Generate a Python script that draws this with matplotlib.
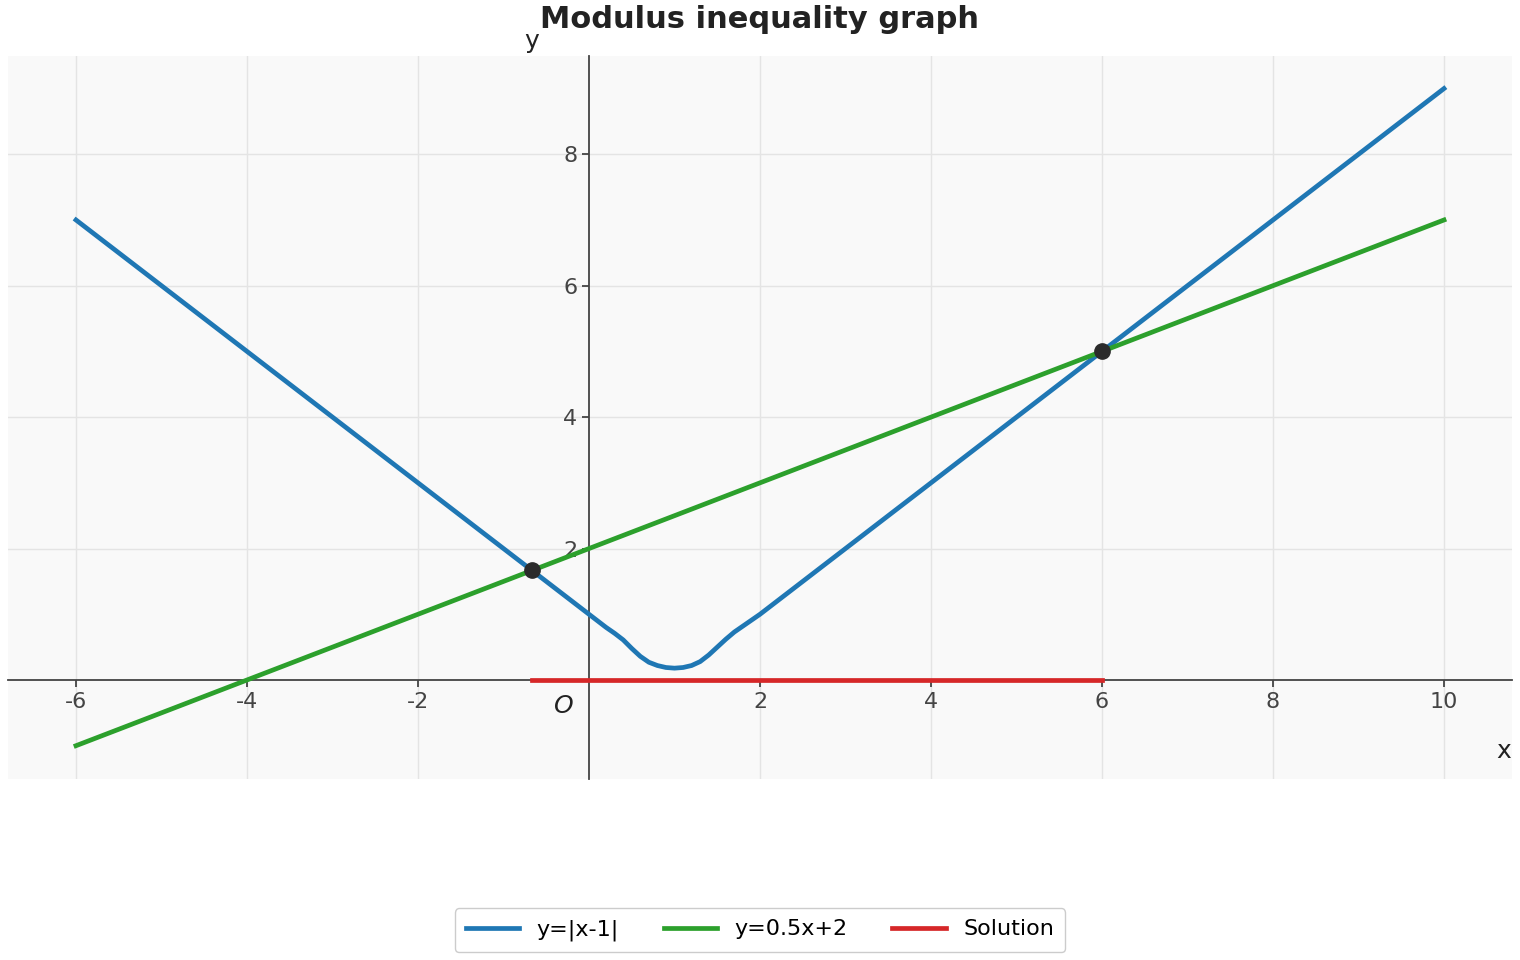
import numpy as np
import matplotlib.pyplot as plt

# y=|x-1| as drawn (rounded near the vertex)
abs_x = [-6, 0, 0.2, 0.3, 0.4, 0.5, 0.6, 0.7, 0.8, 0.9, 1.0, 1.1, 1.2, 1.3, 1.4, 1.5, 1.6, 1.7, 1.8, 2, 10]
abs_y = [7, 1, 0.8, 0.71, 0.61, 0.48, 0.36, 0.27, 0.22, 0.19, 0.18, 0.19, 0.22, 0.28, 0.38, 0.5, 0.62, 0.73, 0.82, 1.0, 9]

line_x = [-6, 10]
line_y = [-1, 7]

cross_x = [-2/3, 6]
cross_y = [5/3, 5]

sol_x = [-2/3, 6]
sol_y = [0, 0]

xticks = [-6, -4, -2, 2, 4, 6, 8, 10]
yticks = [2, 4, 6, 8]

fig = plt.figure(figsize=(15.2, 9.6), dpi=100)
ax = fig.add_axes([0.005, 0.189, 0.99, 0.753])
ax.set_facecolor('#f9f9f9')

ax.plot(abs_x, abs_y, color='#1f77b4', lw=3.4, label='y=|x-1|', zorder=3, solid_joinstyle='round')
ax.plot(line_x, line_y, color='#2ca02c', lw=3.4, label='y=0.5x+2', zorder=3)
ax.plot(sol_x, sol_y, color='#d62728', lw=3.4, label='Solution', zorder=4)
ax.plot(cross_x, cross_y, 'o', color='#2b2b2b', ms=11, zorder=5)

ax.set_xlim(-6.8, 10.8)
ax.set_ylim(-1.5, 9.5)

for s in ['top', 'right']:
    ax.spines[s].set_visible(False)
for s in ['left', 'bottom']:
    ax.spines[s].set_position('zero')
    ax.spines[s].set_color('#444444')
    ax.spines[s].set_linewidth(1.3)

ax.set_xticks(xticks)
ax.set_xticklabels([str(t) for t in xticks])
ax.set_yticks(yticks)
ax.set_yticklabels([str(t) for t in yticks])
ax.tick_params(labelsize=16, colors='#444444', length=5, width=1.3)
ax.grid(True, color='#e4e4e4', lw=1)
ax.set_axisbelow(True)

ax.text(-0.29, -0.4, 'O', fontsize=18, style='italic', color='#222222', ha='center', va='center')
ax.text(10.7, -1.08, 'x', fontsize=18, color='#222222', ha='center', va='center')
ax.text(-0.67, 9.72, 'y', fontsize=18, color='#222222', ha='center', va='center', clip_on=False)

fig.suptitle('Modulus inequality graph', fontsize=22, fontweight='bold', color='#222222', y=0.995)

fig.legend(loc='center', bbox_to_anchor=(0.5, 0.031), ncol=3, fontsize=16,
           handlelength=2.4, columnspacing=2.0, borderpad=0.5, framealpha=1, edgecolor='#cccccc')

fig.savefig('out.png', dpi=100)
